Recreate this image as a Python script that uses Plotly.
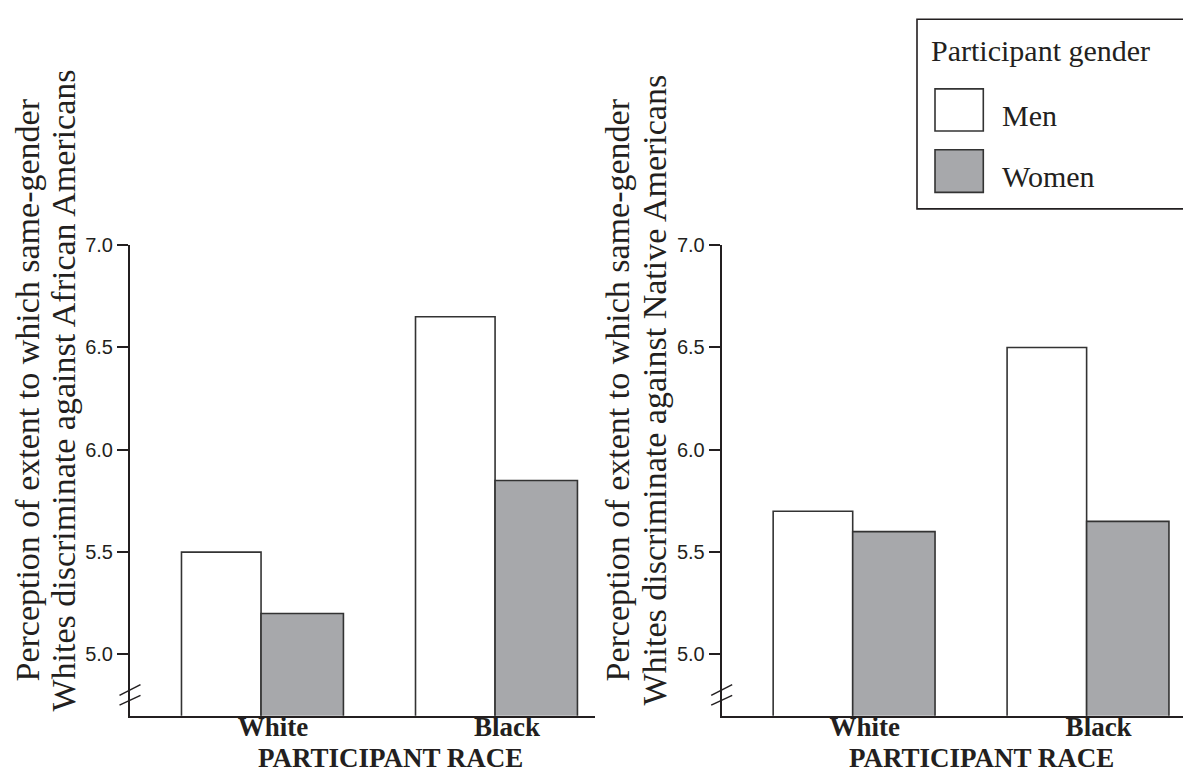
import plotly.graph_objects as go

# ---------------- data ----------------
races = ["White", "Black"]
genders = ["Men", "Women"]
legend_title = "Participant gender"
x_title = "PARTICIPANT RACE"

# panel 1: discrimination against African Americans
african_men = [5.50, 6.65]
african_women = [5.20, 5.85]
# panel 2: discrimination against Native Americans
native_men = [5.70, 6.50]
native_women = [5.60, 5.65]

y_ticks = [5.0, 5.5, 6.0, 6.5, 7.0]
y_tick_text = ["5.0", "5.5", "6.0", "6.5", "7.0"]

title_lines_1 = ["Perception of extent to which same-gender",
                 "Whites discriminate against African Americans"]
title_lines_2 = ["Perception of extent to which same-gender",
                 "Whites discriminate against Native Americans"]

# ---------------- style ----------------
W, H = 1183, 774
INK = "#231f20"
MEN_FILL = "#ffffff"
WOMEN_FILL = "#a7a8ab"
SERIF = "Liberation Serif, Times New Roman, serif"
SANS = "Liberation Sans, Arial, sans-serif"


def px(x):
    return x / W


def py(y):
    return 1 - y / H


positions = list(range(len(races)))

fig = go.Figure()

panels = [
    ("x", "y", african_men, african_women),
    ("x2", "y2", native_men, native_women),
]
for xa, ya, men, women in panels:
    fig.add_trace(go.Bar(
        x=positions, y=men, name=genders[0], width=0.340, offset=-0.340,
        marker=dict(color=MEN_FILL, line=dict(color="#333333", width=1.6)),
        xaxis=xa, yaxis=ya, showlegend=False, hoverinfo="skip"))
    fig.add_trace(go.Bar(
        x=positions, y=women, name=genders[1], width=0.352, offset=0.0,
        marker=dict(color=WOMEN_FILL, line=dict(color="#333333", width=1.6)),
        xaxis=xa, yaxis=ya, showlegend=False, hoverinfo="skip"))

x_common = dict(
    range=[-0.560, 1.427], tickvals=positions, ticktext=races,
    showline=True, linecolor=INK, linewidth=2, ticks="",
    showgrid=False, zeroline=False, ticklabelshift=12,
    ticklabelstandoff=-14,
    tickfont=dict(family=SERIF, size=27, color=INK, weight="bold"),
)
y_common = dict(
    range=[4.70, 7.0], tickvals=y_ticks, ticktext=y_tick_text,
    showline=True, linecolor=INK, linewidth=2, ticks="outside",
    ticklen=11, tickwidth=1.5, tickcolor=INK,
    showgrid=False, zeroline=False,
    tickfont=dict(family=SANS, size=20, color=INK),
)

y_dom = [py(715), py(237.5)]
fig.update_layout(
    width=W, height=H,
    margin=dict(l=0, r=0, t=0, b=0),
    paper_bgcolor="white", plot_bgcolor="white",
    barmode="overlay",
    xaxis=dict(domain=[px(130), px(595)], anchor="y", **x_common),
    yaxis=dict(domain=y_dom, anchor="x", **y_common),
    xaxis2=dict(domain=[px(721.7), 1.0], anchor="y2",
                **{**x_common, "range": [-0.560, 1.412]}),
    yaxis2=dict(domain=y_dom, anchor="x2", **y_common),
)

annotations = []
# x axis titles
for xa in ["x", "x2"]:
    annotations.append(dict(
        text=x_title, xref=xa, yref="paper", x=0.5, y=py(757.5),
        xshift=12, xanchor="center", yanchor="middle", showarrow=False,
        font=dict(family=SERIF, size=27, color=INK, weight="bold")))

# y axis titles (two rotated lines each)
for lines, xs in [(title_lines_1, [28, 64]), (title_lines_2, [618, 655])]:
    for line, xc in zip(lines, xs):
        annotations.append(dict(
            text=line, xref="paper", yref="paper", x=px(xc), y=py(385),
            xanchor="center", yanchor="middle", textangle=-90,
            showarrow=False, font=dict(family=SERIF, size=34, color=INK)))

# legend texts
annotations.append(dict(
    text=legend_title, xref="paper", yref="paper", x=px(929), y=py(40.5),
    xanchor="left", yanchor="middle", showarrow=False,
    font=dict(family=SERIF, size=30, color=INK)))
for name, yc in zip(genders, [106, 167.5]):
    annotations.append(dict(
        text=name, xref="paper", yref="paper", x=px(1000), y=py(yc),
        xanchor="left", yanchor="middle", showarrow=False,
        font=dict(family=SERIF, size=30, color=INK)))

shapes = []
# legend frame
shapes.append(dict(type="rect", xref="paper", yref="paper",
                   x0=px(917), x1=px(1200), y0=py(200.7), y1=py(8.3),
                   line=dict(color=INK, width=1.6), fillcolor="white",
                   layer="below"))
# legend swatches
for fill, (ytop, ybot) in zip([MEN_FILL, WOMEN_FILL], [(79, 121.7), (140.7, 184)]):
    shapes.append(dict(type="rect", xref="paper", yref="paper",
                       x0=px(935), x1=px(983.3), y0=py(ybot), y1=py(ytop),
                       line=dict(color="#333333", width=1.6), fillcolor=fill))

# axis break marks
for ax_x in [130, 721.7]:
    for (ya, yb) in [(694.3, 683.3), (704.2, 694.2)]:
        shapes.append(dict(type="line", xref="paper", yref="paper",
                           x0=px(ax_x - 10.5), x1=px(ax_x + 10.5),
                           y0=py(ya), y1=py(yb),
                           line=dict(color=INK, width=1.5)))

fig.update_layout(annotations=annotations, shapes=shapes, hovermode=False)

fig.write_html(
    "out.html",
    config={"displayModeBar": False},
    post_script="document.body.style.margin='0';document.body.style.overflow='hidden';",
)
